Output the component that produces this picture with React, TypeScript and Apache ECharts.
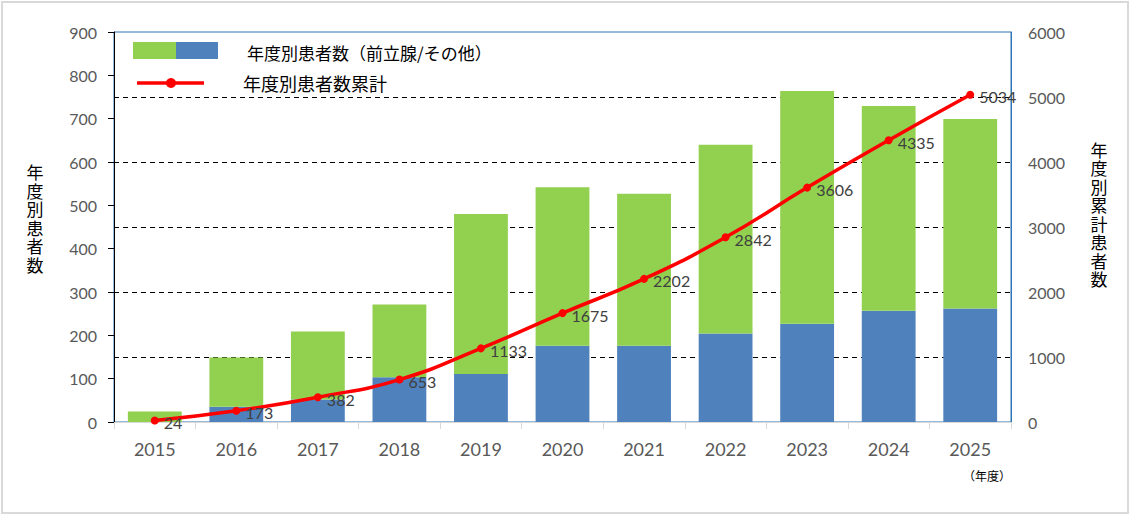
import { useEffect, useRef } from 'react';
import * as echarts from 'echarts';

// 年度
const years = ['2015', '2016', '2017', '2018', '2019', '2020', '2021', '2022', '2023', '2024', '2025'];
// bottom part of each bar (blue)
const blueCounts = [0, 35, 52, 103, 111, 176, 176, 204, 227, 257, 262];
// top part of each bar (green)
const greenCounts = [24, 114, 157, 168, 369, 366, 351, 436, 537, 472, 437];
// 年度別患者数累計
const cumulative = [24, 173, 382, 653, 1133, 1675, 2202, 2842, 3606, 4335, 5034];

const leftTicks = { min: 0, max: 900, interval: 100 };
const rightTicks = { min: 0, max: 6000, interval: 1000 };

const JP = '"Noto Sans CJK JP", sans-serif';
const NUM = 'Lato, "Noto Sans", sans-serif';

// one glyph per element so the stacked titles keep their tight spacing
const verticalChars = (s: string, cx: number, cy: number, step: number, size: number) => {
    const chars = s.split('');
    const top = cy - ((chars.length - 1) * step) / 2;
    return chars.map((c, i) => ({
        type: 'text',
        x: cx,
        y: top + i * step,
        style: {
            text: c,
            font: `${size}px ${JP}`,
            fill: '#000',
            align: 'center',
            verticalAlign: 'middle',
        },
    }));
};

export default function App() {
    const chartRef = useRef<HTMLDivElement>(null);

    useEffect(() => {
        if (!chartRef.current) return;
        const chart = echarts.init(chartRef.current, null, { renderer: 'svg' });

        const option = {
            animation: false,
            grid: {
                left: 114,
                right: 120,
                top: 32,
                bottom: 94,
                show: true,
                borderColor: '#2E75B6',
                borderWidth: 1,
            },
            xAxis: {
                type: 'category',
                data: years,
                axisLine: { lineStyle: { color: '#D9D9D9', width: 1 } },
                axisTick: { show: true, length: 7, lineStyle: { color: '#D9D9D9' } },
                axisLabel: { color: '#595959', fontSize: 18, fontFamily: NUM, margin: 18 },
            },
            yAxis: [
                {
                    type: 'value',
                    ...leftTicks,
                    axisLine: { show: true, lineStyle: { color: '#000', width: 1 } },
                    axisTick: { show: true, length: 6, lineStyle: { color: '#000' } },
                    axisLabel: { color: '#595959', fontSize: 16, fontFamily: NUM, margin: 17 },
                    splitLine: { show: false },
                },
                {
                    type: 'value',
                    ...rightTicks,
                    position: 'right',
                    axisLine: { show: true, lineStyle: { color: '#2E75B6', width: 1 } },
                    axisTick: { show: false },
                    axisLabel: {
                        color: '#595959',
                        fontSize: 16,
                        fontFamily: NUM,
                        margin: 17,
                        formatter: (v: number) => String(v),
                    },
                    splitLine: {
                        show: true,
                        showMinLine: false,
                        showMaxLine: false,
                        lineStyle: { color: '#000', type: [5, 4], width: 1 },
                    },
                },
            ],
            series: [
                {
                    name: 'blue',
                    type: 'bar',
                    stack: 'total',
                    data: blueCounts,
                    barWidth: '66%',
                    itemStyle: { color: '#4F81BD' },
                    yAxisIndex: 0,
                },
                {
                    name: 'green',
                    type: 'bar',
                    stack: 'total',
                    data: greenCounts,
                    barWidth: '66%',
                    itemStyle: { color: '#92D050' },
                    yAxisIndex: 0,
                },
                {
                    name: '年度別患者数累計',
                    type: 'line',
                    yAxisIndex: 1,
                    data: cumulative,
                    smooth: true,
                    symbol: 'circle',
                    symbolSize: 8,
                    lineStyle: { color: '#FF0000', width: 3.5 },
                    itemStyle: { color: '#FF0000' },
                    label: {
                        show: true,
                        position: 'right',
                        offset: [0, 2],
                        color: '#404040',
                        fontSize: 16,
                        fontFamily: NUM,
                    },
                    z: 5,
                },
            ],
            graphic: [
                // outer frame
                {
                    type: 'rect',
                    shape: { x: 2, y: 2, width: 1126, height: 511 },
                    style: { fill: 'none', stroke: '#D9D9D9', lineWidth: 2 },
                    silent: true,
                },
                // legend row 1
                { type: 'rect', shape: { x: 133, y: 42, width: 43, height: 17 }, style: { fill: '#92D050' } },
                { type: 'rect', shape: { x: 176, y: 42, width: 42, height: 17 }, style: { fill: '#4F81BD' } },
                {
                    type: 'text',
                    x: 247,
                    y: 52,
                    style: {
                        text: '年度別患者数（前立腺/その他）',
                        font: `17px ${JP}`,
                        fill: '#000',
                        verticalAlign: 'middle',
                    },
                },
                // legend row 2
                {
                    type: 'line',
                    shape: { x1: 137, y1: 83, x2: 204, y2: 83 },
                    style: { stroke: '#FF0000', lineWidth: 3.5 },
                },
                { type: 'circle', shape: { cx: 171, cy: 83, r: 5 }, style: { fill: '#FF0000' } },
                {
                    type: 'text',
                    x: 243,
                    y: 83,
                    style: {
                        text: '年度別患者数累計',
                        font: `18px ${JP}`,
                        fill: '#000',
                        verticalAlign: 'middle',
                    },
                },
                // axis titles
                ...verticalChars('年度別患者数', 35, 218, 18.5, 17),
                ...verticalChars('年度別累計患者数', 1099, 214, 18.5, 17),
                {
                    type: 'text',
                    x: 1011,
                    y: 475,
                    style: {
                        text: '（年度）',
                        font: `12px ${JP}`,
                        fill: '#000',
                        align: 'right',
                        verticalAlign: 'middle',
                    },
                },
            ],
        };

        chart.setOption(option);
        return () => {
            chart.dispose();
        };
    }, []);

    return (
        <div
            ref={chartRef}
            style={{ position: 'fixed', left: 0, top: 0, width: 1131, height: 516, background: '#fff' }}
        />
    );
}
